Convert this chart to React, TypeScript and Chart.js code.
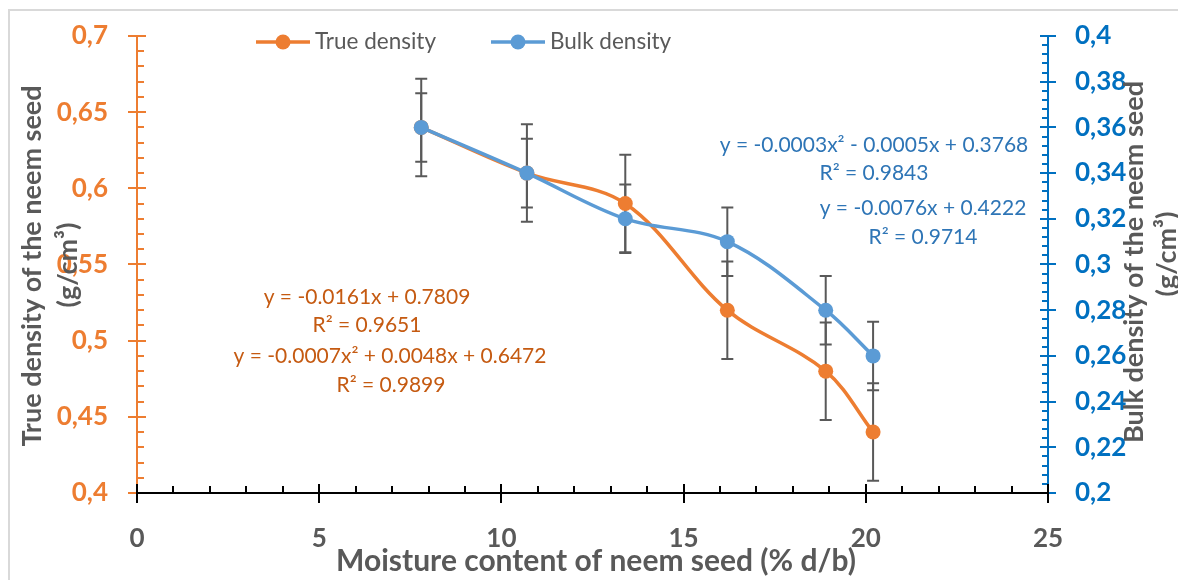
import React, { useEffect, useRef } from 'react';
import { Chart, registerables } from 'chart.js';

Chart.register(...registerables);

// ---- data ----
const moisture = [7.8, 10.7, 13.4, 16.2, 18.9, 20.2];
const trueDensity = [0.64, 0.61, 0.59, 0.52, 0.48, 0.44];
const bulkDensity = [0.36, 0.34, 0.32, 0.31, 0.28, 0.26];
const trueErr = [0.032, 0.032, 0.032, 0.032, 0.032, 0.032];
const bulkErr = [0.015, 0.015, 0.015, 0.015, 0.015, 0.015];

const xTicks = [0, 5, 10, 15, 20, 25];
const leftTicks = [0.4, 0.45, 0.5, 0.55, 0.6, 0.65, 0.7];
const rightTicks = [0.2, 0.22, 0.24, 0.26, 0.28, 0.3, 0.32, 0.34, 0.36, 0.38, 0.4];

const seriesNames = ['True density', 'Bulk density'];
const xTitle = 'Moisture content of neem seed (% d/b)';
const leftTitle = ['True density of the neem seed', '(g/cm³)'];
const rightTitle = ['Bulk density of the neem seed', '(g/cm³)'];
const trueEqs = ['y = -0.0161x + 0.7809', 'R² = 0.9651', 'y = -0.0007x² + 0.0048x + 0.6472', 'R² = 0.9899'];
const bulkEqs = ['y = -0.0003x² - 0.0005x + 0.3768', 'R² = 0.9843', 'y = -0.0076x + 0.4222', 'R² = 0.9714'];

const ORANGE = '#ED7D31';
const BLUE = '#5B9BD5';
const ORANGE_AXIS = '#ED7D31';
const BLUE_AXIS = '#0070C0';
const GRAY = '#595959';
const FONT = 'Lato, "Open Sans", sans-serif';

const fmt = (v: number) => String(Number(v.toFixed(3))).replace('.', ',');

const decorPlugin = {
  id: 'decor',
  beforeDatasetsDraw(chart: any) {
    const ctx = chart.ctx;
    const xs = chart.scales.x;
    const series = [
      { vals: trueDensity, errs: trueErr, scale: chart.scales.y },
      { vals: bulkDensity, errs: bulkErr, scale: chart.scales.y1 },
    ];
    ctx.save();
    ctx.strokeStyle = GRAY;
    ctx.lineWidth = 2;
    series.forEach((s) => {
      s.vals.forEach((v, i) => {
        const px = xs.getPixelForValue(moisture[i]);
        const t = s.scale.getPixelForValue(v + s.errs[i]);
        const b = s.scale.getPixelForValue(v - s.errs[i]);
        ctx.beginPath();
        ctx.moveTo(px, t);
        ctx.lineTo(px, b);
        ctx.moveTo(px - 6, t);
        ctx.lineTo(px + 6, t);
        ctx.moveTo(px - 6, b);
        ctx.lineTo(px + 6, b);
        ctx.stroke();
      });
    });
    ctx.restore();
  },
  afterDraw(chart: any) {
    const ctx = chart.ctx;
    const a = chart.chartArea;
    const xs = chart.scales.x;
    const yl = chart.scales.y;
    const yr = chart.scales.y1;
    ctx.save();

    // frame
    ctx.strokeStyle = '#D9D9D9';
    ctx.lineWidth = 2;
    ctx.strokeRect(9, 10, 1400, 800);

    // left axis
    ctx.strokeStyle = ORANGE_AXIS;
    ctx.lineWidth = 2;
    ctx.beginPath();
    ctx.moveTo(a.left, a.top);
    ctx.lineTo(a.left, a.bottom);
    for (let k = 0; k <= 30; k++) {
      const v = 0.4 + k * 0.01;
      const py = Math.round(yl.getPixelForValue(v));
      const major = k % 5 === 0;
      ctx.moveTo(major ? a.left - 9 : a.left, py);
      ctx.lineTo(a.left + (major ? 9 : 7), py);
    }
    ctx.stroke();

    // right axis
    ctx.strokeStyle = BLUE_AXIS;
    ctx.beginPath();
    ctx.moveTo(a.right, a.top);
    ctx.lineTo(a.right, a.bottom);
    for (let k = 0; k <= 50; k++) {
      const v = 0.2 + k * 0.004;
      const py = Math.round(yr.getPixelForValue(v));
      const major = k % 5 === 0;
      ctx.moveTo(a.right - (major ? 8 : 6), py);
      ctx.lineTo(major ? a.right + 8 : a.right, py);
    }
    ctx.stroke();

    // x axis
    ctx.strokeStyle = '#000000';
    ctx.beginPath();
    ctx.moveTo(a.left, a.bottom);
    ctx.lineTo(a.right, a.bottom);
    for (let v = 0; v <= 25; v++) {
      const px = Math.round(xs.getPixelForValue(v));
      const major = v % 5 === 0;
      ctx.moveTo(px, a.bottom - (major ? 9 : 7));
      ctx.lineTo(px, major ? a.bottom + 10 : a.bottom);
    }
    ctx.stroke();

    // legend
    const legend = [
      { name: seriesNames[0], color: ORANGE, x: 256 },
      { name: seriesNames[1], color: BLUE, x: 491 },
    ];
    ctx.font = `22.5px ${FONT}`;
    ctx.textBaseline = 'middle';
    ctx.textAlign = 'left';
    legend.forEach((l) => {
      const ly = 42;
      ctx.strokeStyle = l.color;
      ctx.lineWidth = 3.5;
      ctx.beginPath();
      ctx.moveTo(l.x, ly);
      ctx.lineTo(l.x + 54, ly);
      ctx.stroke();
      ctx.fillStyle = l.color;
      ctx.beginPath();
      ctx.arc(l.x + 27, ly, 7.5, 0, Math.PI * 2);
      ctx.fill();
      ctx.fillStyle = GRAY;
      ctx.fillText(l.name, l.x + 59, ly);
    });

    // trendline equations
    ctx.font = `21px ${FONT}`;
    ctx.textAlign = 'center';
    ctx.fillStyle = '#C55A11';
    const tPos = [[367, 297], [367, 325], [390, 356], [391, 385]];
    trueEqs.forEach((t, i) => ctx.fillText(t, tPos[i][0], tPos[i][1]));
    ctx.fillStyle = '#2E75B6';
    const bPos = [[874, 145], [874, 173], [923, 208], [923, 237]];
    bulkEqs.forEach((t, i) => ctx.fillText(t, bPos[i][0], bPos[i][1]));

    // axis titles
    ctx.fillStyle = GRAY;
    ctx.font = `bold 27px ${FONT}`;
    ctx.textAlign = 'center';
    ctx.textBaseline = 'middle';
    const drawRot = (text: string, x: number, y: number) => {
      ctx.save();
      ctx.translate(x, y);
      ctx.rotate(-Math.PI / 2);
      ctx.fillText(text, 0, 0);
      ctx.restore();
    };
    drawRot(leftTitle[0], 32, 266);
    drawRot(leftTitle[1], 68, 265);
    drawRot(rightTitle[0], 1134, 262);
    drawRot(rightTitle[1], 1167, 254);

    ctx.font = `bold 30px ${FONT}`;
    ctx.fillText(xTitle, 596, 561);

    ctx.restore();
  },
};

const zeroPad = (s: any) => {
  s.paddingTop = 0;
  s.paddingBottom = 0;
  s.paddingLeft = 0;
  s.paddingRight = 0;
};

export default function App() {
  const ref = useRef<HTMLCanvasElement | null>(null);

  useEffect(() => {
    if (!ref.current) return;
    const chart = new Chart(ref.current, {
      type: 'line',
      data: {
        datasets: [
          {
            label: seriesNames[0],
            data: moisture.map((x, i) => ({ x, y: trueDensity[i] })),
            borderColor: ORANGE,
            backgroundColor: ORANGE,
            pointBackgroundColor: ORANGE,
            pointBorderWidth: 0,
            pointRadius: 7.5,
            borderWidth: 3.5,
            tension: 0.35,
            yAxisID: 'y',
            order: 1,
          },
          {
            label: seriesNames[1],
            data: moisture.map((x, i) => ({ x, y: bulkDensity[i] })),
            borderColor: BLUE,
            backgroundColor: BLUE,
            pointBackgroundColor: BLUE,
            pointBorderWidth: 0,
            pointRadius: 7.5,
            borderWidth: 3.5,
            tension: 0.35,
            yAxisID: 'y1',
            order: 0,
          },
        ],
      },
      options: {
        animation: false,
        responsive: false,
        maintainAspectRatio: false,
        layout: { padding: { top: 36, left: 0, right: 0, bottom: 0 } },
        plugins: { legend: { display: false }, tooltip: { enabled: false } },
        scales: {
          x: {
            type: 'linear',
            min: 0,
            max: 25,
            afterBuildTicks: (s: any) => { s.ticks = xTicks.map((v) => ({ value: v })); },
            afterFit: (s: any) => { s.height = 87; zeroPad(s); },
            grid: { display: false, drawTicks: false },
            border: { display: false },
            ticks: {
              autoSkip: false,
              maxRotation: 0,
              padding: 30,
              color: GRAY,
              font: { family: FONT, size: 26, weight: 'bold' },
              callback: (v: any) => fmt(Number(v)),
            },
          },
          y: {
            type: 'linear',
            position: 'left',
            min: 0.4,
            max: 0.7,
            afterBuildTicks: (s: any) => { s.ticks = leftTicks.map((v) => ({ value: v })); },
            afterFit: (s: any) => { s.width = 137; zeroPad(s); },
            grid: { display: false, drawTicks: false },
            border: { display: false },
            ticks: {
              autoSkip: false,
              padding: 29,
              color: ORANGE_AXIS,
              font: { family: FONT, size: 26, weight: 'bold' },
              callback: (v: any) => fmt(Number(v)),
            },
          },
          y1: {
            type: 'linear',
            position: 'right',
            min: 0.2,
            max: 0.4,
            afterBuildTicks: (s: any) => { s.ticks = rightTicks.map((v) => ({ value: v })); },
            afterFit: (s: any) => { s.width = 130; zeroPad(s); },
            grid: { display: false, drawTicks: false },
            border: { display: false },
            ticks: {
              autoSkip: false,
              padding: 27,
              color: BLUE_AXIS,
              font: { family: FONT, size: 26, weight: 'bold' },
              callback: (v: any) => fmt(Number(v)),
            },
          },
        },
      },
      plugins: [decorPlugin],
    });
    return () => chart.destroy();
  }, []);

  return (
    <div style={{ position: 'fixed', left: 0, top: 0, width: 1178, height: 580, background: '#fff' }}>
      <canvas ref={ref} width={1178} height={580} style={{ display: 'block', width: 1178, height: 580 }} />
    </div>
  );
}
